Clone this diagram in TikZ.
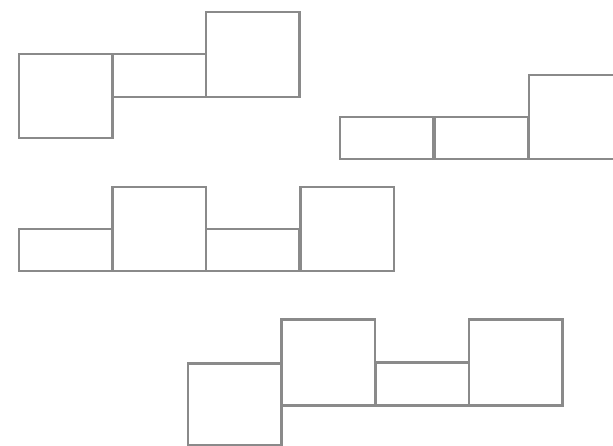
\documentclass[tikz,border=0pt]{standalone}
\definecolor{edgegray}{RGB}{138,138,138}
\tikzset{
  cell/.style={draw=edgegray, line width=2.5pt, fill=none, inner sep=0pt, anchor=north west, minimum width=93.5pt},
  sq/.style={cell, minimum height=84pt},
  bar/.style={cell, minimum height=43pt},
}
\begin{document}
\begin{tikzpicture}[x=1pt,y=-1pt]
\useasboundingbox (0,0) rectangle (613,446);
\clip (0,0) rectangle (613,446);
% group 1
\node[sq]  (a1) at (17.5,53) {};
\node[bar] (a2) at (111,53) {};
\node[sq, minimum height=85pt]  (a3) at (204.5,11) {};
% group 2
\node[bar, minimum height=42pt] (b1) at (338.5,116) {};
\node[bar, minimum height=42pt] (b2) at (433,116) {};
\node[sq]  (b3) at (527.5,74) {};
% group 3
\node[bar, minimum height=42pt] (c1) at (17.5,228) {};
\node[sq]  (c2) at (111,186) {};
\node[bar, minimum height=42pt] (c3) at (204.5,228) {};
\node[sq]  (c4) at (299,186) {};
% group 4
\node[sq, minimum height=81.5pt]  (d1) at (186.5,362) {};
\node[sq, minimum height=86pt]  (d2) at (280,318) {};
\node[bar] (d3) at (374,361) {};
\node[sq, minimum height=86pt]  (d4) at (467.5,318) {};
\end{tikzpicture}
\end{document}
